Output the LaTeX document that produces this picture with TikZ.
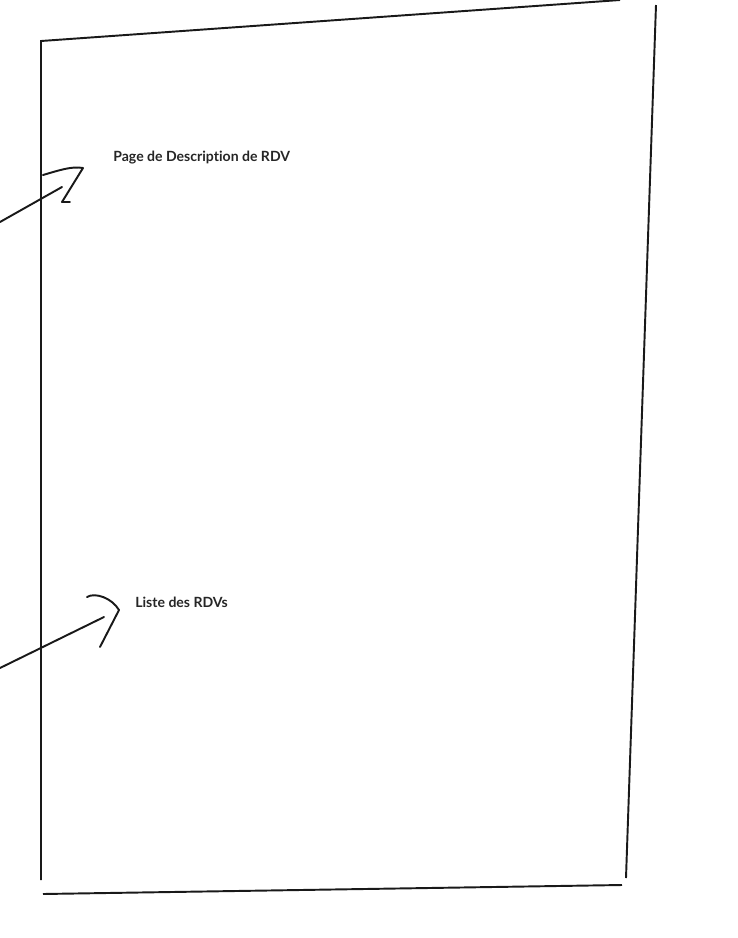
\documentclass[tikz,border=0pt]{standalone}
\usepackage{fontspec}
\setmainfont[Ligatures={NoCommon}]{Lato}
\usetikzlibrary{positioning,calc}

\begin{document}
\begin{tikzpicture}[
  x=0.02cm, y=-0.02cm,
  frame/.style={line width=1.1pt, black!90},
  scribble/.style={line width=1.1pt, black!90, line cap=round, line join=round},
  label/.style={font=\fontsize{8}{9.6}\selectfont\bfseries, text=black!85, anchor=west, inner sep=0pt}
]
\useasboundingbox (0,0) rectangle (738,938);

% page frame (hand drawn)
\draw[frame] (41,880) -- (41,41) -- (620,0);
\draw[frame] (656,5) -- (626,878);
\draw[frame] (43,894) -- (622,885);

% labels
\node[label] (desc) at (113,158) {Page de Description de RDV};
\node[label] (liste) at (135,602) {Liste des RDVs};

% pointer to the description page
\coordinate (descIn) at (0,222);
\coordinate (descTip) at (62,187);
\draw[scribble] (descIn) -- (descTip);
\draw[scribble] (43,175) .. controls (60,170) and (72,166) .. (83,168) -- (62,202) -- (70,202);

% pointer to the list
\coordinate (listeIn) at (0,668);
\coordinate (listeTip) at (104,617);
\draw[scribble] (listeIn) -- (listeTip);
\draw[scribble] (87,597) .. controls (95,592) and (112,598) .. (119,610) -- (100,647);

\end{tikzpicture}
\end{document}
